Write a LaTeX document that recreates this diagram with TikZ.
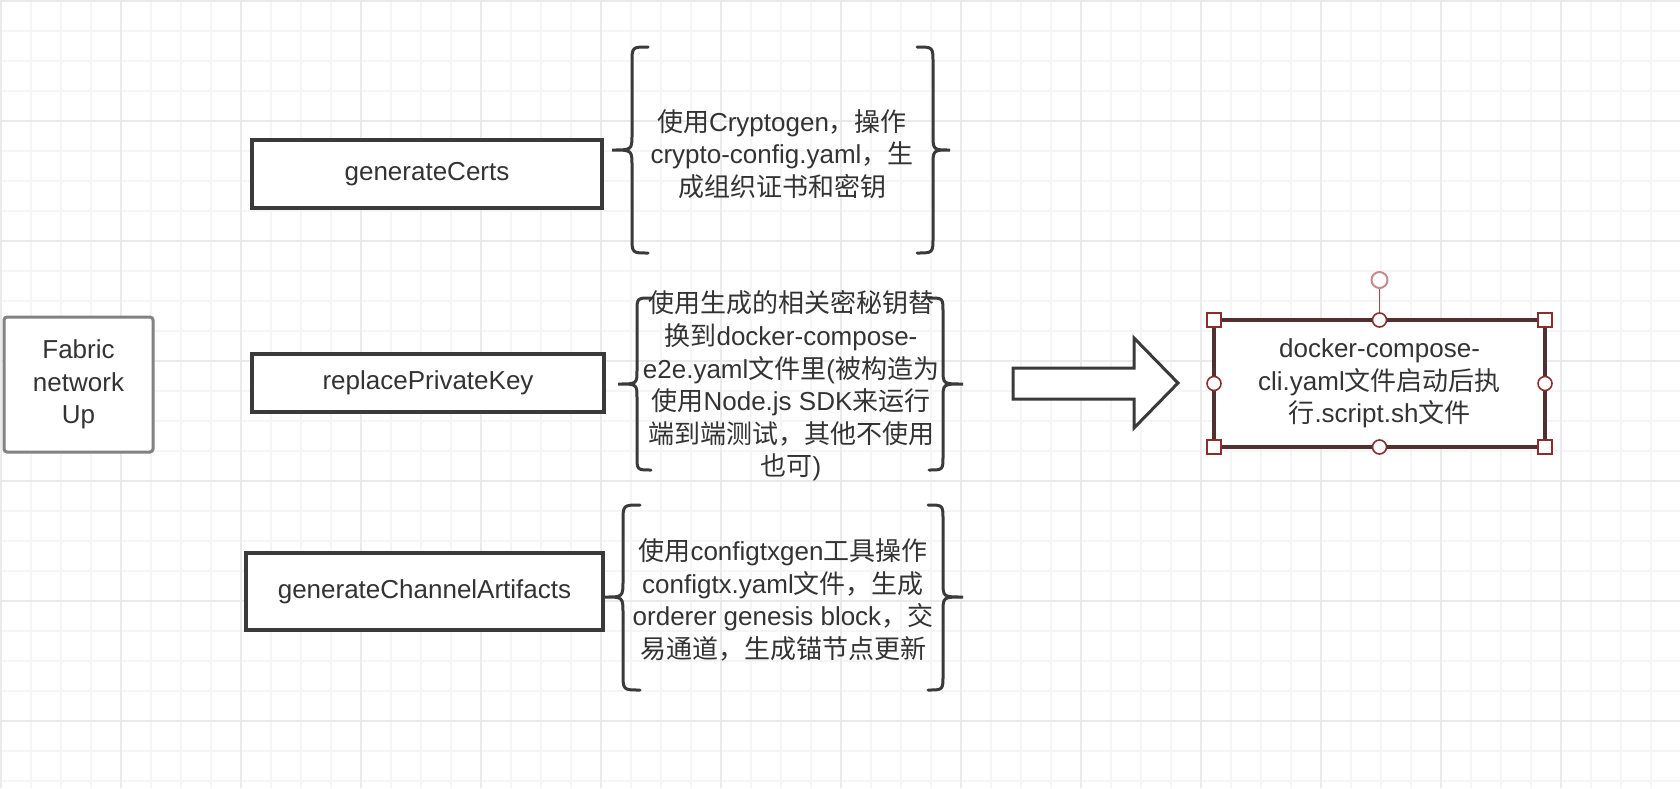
\documentclass[tikz,border=0pt]{standalone}
\usepackage{fontspec}
\setmainfont{Liberation Sans}
\newfontfamily\cjk{Noto Sans CJK SC}
\newcommand{\zh}[1]{{\cjk #1}}
\definecolor{gridminor}{RGB}{245, 245, 245}
\definecolor{gridmajor}{RGB}{234, 234, 234}
\definecolor{ink}{RGB}{51, 51, 51}
\definecolor{boxline}{RGB}{58, 58, 58}
\definecolor{fabricgray}{RGB}{130, 130, 130}
\definecolor{selectline}{RGB}{80, 48, 48}
\definecolor{handlered}{RGB}{140, 45, 45}
\definecolor{knobpink}{RGB}{195, 140, 140}

\begin{document}
\begin{tikzpicture}[x=0.5pt, y=-0.5pt,
    every node/.style={font=\fontsize{13pt}{16.3pt}\selectfont, text=ink},
    stepbox/.style={draw=boxline, line width=2pt, fill=white, inner sep=0pt, outer sep=0pt},
    startbox/.style={draw=fabricgray, line width=1.5pt, rounded corners=1.5pt, fill=white,
        align=center, inner sep=0pt, outer sep=0pt},
    note/.style={align=center, inner sep=0pt},
    curly/.style={draw=boxline, line width=1.5pt, line cap=round},
    bigarrow/.style={draw=boxline, line width=1.5pt, line join=miter, fill=white},
    resultbox/.style={draw=selectline, line width=1.6pt, fill=white, align=center,
        inner sep=0pt, outer sep=0pt},
    sqhandle/.style={draw=handlered, line width=0.8pt, fill=white, minimum size=7pt,
        inner sep=0pt},
    rdhandle/.style={draw=handlered, line width=0.8pt, fill=white, circle, minimum size=7pt,
        inner sep=0pt},
    rotknob/.style={draw=knobpink, line width=1pt, fill=white, circle, minimum size=8pt,
        inner sep=0pt},
    ]
    % canvas and grid
    \fill[white] (0,0) rectangle (1680,788);
    \useasboundingbox (0,0) rectangle (1680,788);
    \foreach \gx in {1,31,...,1680} \draw[gridminor, line width=0.9pt] (\gx,0) -- (\gx,788);
    \foreach \gy in {1,31,...,788} \draw[gridminor, line width=0.9pt] (0,\gy) -- (1680,\gy);
    \foreach \gx in {1,121,...,1680} \draw[gridmajor, line width=1pt] (\gx,0) -- (\gx,788);
    \foreach \gy in {1,121,...,788} \draw[gridmajor, line width=1pt] (0,\gy) -- (1680,\gy);

    % steps
    \node[startbox, minimum width=74.5pt, minimum height=67.5pt] (fabric) at (78.5,384.5) {Fabric\\network\\Up};
    \node[stepbox, minimum width=175pt, minimum height=34pt] (certs) at (427,174) {generateCerts};
    \node[stepbox, minimum width=176pt, minimum height=29pt] (privkey) at (428,383) {replacePrivateKey};
    \node[stepbox, minimum width=178.5pt, minimum height=38.5pt] (channel) at (424.5,591.5) {generateChannelArtifacts};

    % braces
    \draw[curly] (648,47) .. controls (632,47) .. (632,63) -- (632,134) .. controls (632,150) .. (612,150)
        .. controls (632,150) .. (632,166) -- (632,237) .. controls (632,253) .. (648,253);
    \draw[curly] (917,47) .. controls (933,47) .. (933,63) -- (933,134) .. controls (933,150) .. (950,150)
        .. controls (933,150) .. (933,166) -- (933,237) .. controls (933,253) .. (917,253);
    \draw[curly] (651,298) .. controls (637,298) .. (637,312) -- (637,370) .. controls (637,384) .. (618,384)
        .. controls (637,384) .. (637,398) -- (637,456) .. controls (637,470) .. (651,470);
    \draw[curly] (929,298) .. controls (943,298) .. (943,312) -- (943,370) .. controls (943,384) .. (963,384)
        .. controls (943,384) .. (943,398) -- (943,456) .. controls (943,470) .. (929,470);
    \draw[curly] (640,505) .. controls (623,505) .. (623,522) -- (623,580) .. controls (623,597) .. (605,597)
        .. controls (623,597) .. (623,614) -- (623,673) .. controls (623,690) .. (640,690);
    \draw[curly] (928,505) .. controls (943,505) .. (943,520) -- (943,582) .. controls (943,597) .. (963,597)
        .. controls (943,597) .. (943,612) -- (943,675) .. controls (943,690) .. (928,690);

    % notes
    \node[note] (certsnote) at (782,154) {\zh{使用}Cryptogen\zh{，操作}\\crypto-config.yaml\zh{，生}\\\zh{成组织证书和密钥}};
    \node[note] (keynote) at (791,386) {\zh{使用生成的相关密秘钥替}\\\zh{换到}docker-compose-\\e2e.yaml\zh{文件里}(\zh{被构造为}\\\zh{使用}Node.js SDK\zh{来运行}\\\zh{端到端测试，其他不使用}\\\zh{也可})};
    \node[note] (channelnote) at (783,600) {\zh{使用}configtxgen\zh{工具操作}\\configtx.yaml\zh{文件，生成}\\orderer genesis block\zh{，交}\\\zh{易通道，生成锚节点更新}};

    % block arrow
    \draw[bigarrow] (1013,368) -- (1134,368) -- (1134,338) -- (1178,383) -- (1134,428) -- (1134,399) -- (1013,399) -- cycle;

    % result, still selected
    \node[rotknob] (knob) at (1379.5,280) {};
    \node[resultbox, minimum width=165.5pt, minimum height=63.5pt] (result) at (1379.5,383.5) {docker-compose-\\cli.yaml\zh{文件启动后执}\\\zh{行}.script.sh\zh{文件}};
    \draw[handlered!85, line width=0.8pt] (result.north) -- (knob.south);
    \foreach \a in {north west, north east, south west, south east} \node[sqhandle] at (result.\a) {};
    \foreach \a in {north, south, east, west} \node[rdhandle] at (result.\a) {};
\end{tikzpicture}
\end{document}
